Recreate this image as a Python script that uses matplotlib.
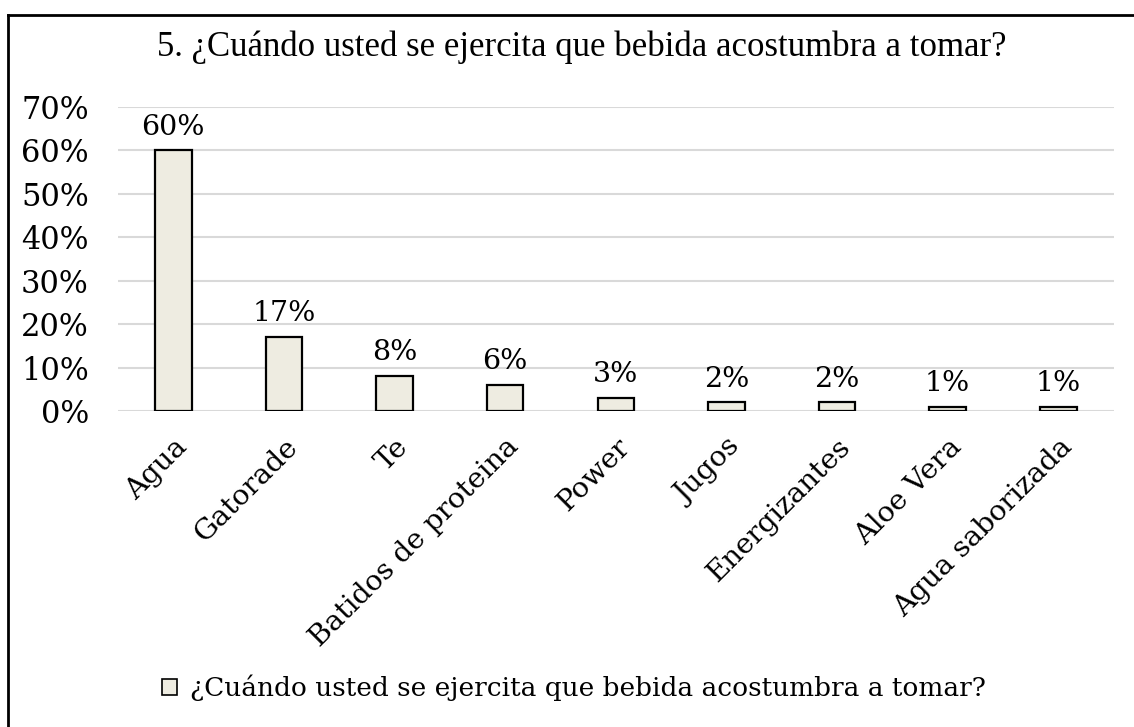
import matplotlib.pyplot as plt
from matplotlib.lines import Line2D
from matplotlib.patches import Patch
from matplotlib.ticker import PercentFormatter

# data
bebidas = ['Agua', 'Gatorade', 'Te', 'Batidos de proteina', 'Power',
           'Jugos', 'Energizantes', 'Aloe Vera', 'Agua saborizada']
porcentajes = [0.60, 0.17, 0.08, 0.06, 0.03, 0.02, 0.02, 0.01, 0.01]
etiquetas = ['60%', '17%', '8%', '6%', '3%', '2%', '2%', '1%', '1%']
yticks = [0, 0.1, 0.2, 0.3, 0.4, 0.5, 0.6, 0.7]
pregunta = '¿Cuándo usted se ejercita que bebida acostumbra a tomar?'

fill = '#EEECE1'
grid = '#D9D9D9'
serif = 'DejaVu Serif'

fig = plt.figure(figsize=(11.34, 7.27), dpi=100)
ax = fig.add_axes([0.104, 0.4347, 0.878, 0.4183])

x = range(len(bebidas))
bars = ax.bar(x, porcentajes, width=0.33, color=fill, edgecolor='black',
              linewidth=1.6, zorder=3)

for b, lab in zip(bars, etiquetas):
    ax.annotate(lab, (b.get_x() + b.get_width() / 2, b.get_height()),
                xytext=(0, 7), textcoords='offset points', ha='center',
                va='bottom', fontsize=20.5, family=serif)

ax.set_ylim(0, 0.7)
ax.set_xlim(-0.5, len(bebidas) - 0.5)
ax.set_yticks(yticks)
ax.yaxis.set_major_formatter(PercentFormatter(1.0, decimals=0))
ax.set_xticks(list(x))
ax.set_xticklabels(bebidas, rotation=45, ha='right', rotation_mode='anchor',
                   fontsize=20.5, family=serif)
for t in ax.get_yticklabels():
    t.set_fontsize(22)
    t.set_family(serif)
ax.tick_params(length=0)
ax.tick_params(axis='x', pad=16)
ax.tick_params(axis='y', pad=21)
ax.grid(axis='y', color=grid, linewidth=1.5, zorder=0)
for s in ax.spines.values():
    s.set_visible(False)

fig.text(0.513, 0.935, '5. ' + pregunta, ha='center', va='center',
         fontsize=25, family='Liberation Serif')

fig.legend(handles=[Patch(facecolor=fill, edgecolor='black', linewidth=1.2)],
           labels=[pregunta], loc='center', bbox_to_anchor=(0.506, 0.054),
           frameon=False, prop={'family': serif, 'size': 19},
           handlelength=0.55, handleheight=0.55, handletextpad=0.5)

# chart frame (top and left edges visible)
fig.add_artist(Line2D([8 / 1134, 1], [1 - 15 / 727, 1 - 15 / 727],
                      color='black', linewidth=2, transform=fig.transFigure))
fig.add_artist(Line2D([8 / 1134, 8 / 1134], [0, 1 - 15 / 727],
                      color='black', linewidth=2, transform=fig.transFigure))

fig.savefig('out.png', dpi=100)
